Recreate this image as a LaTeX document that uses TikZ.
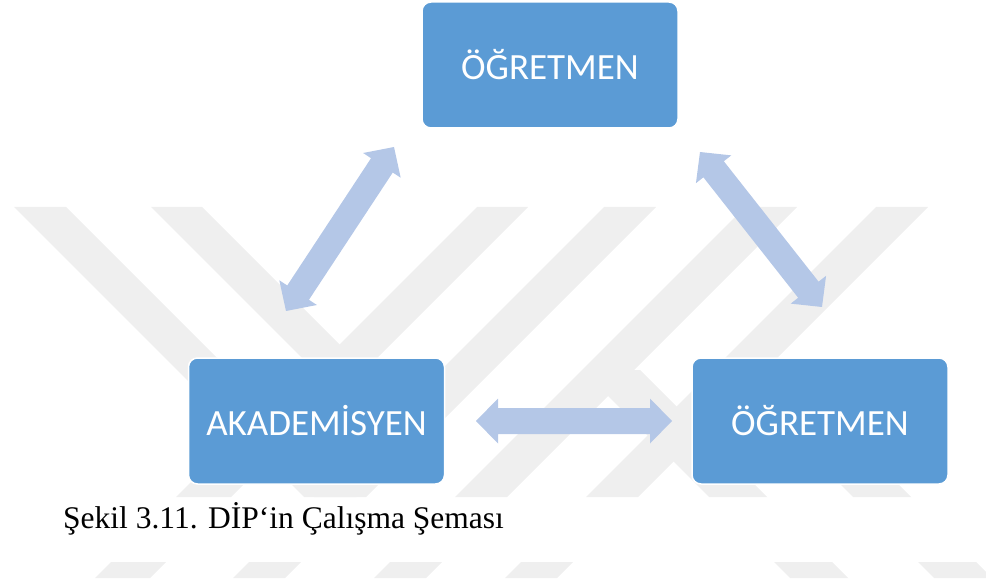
\documentclass[tikz,border=0pt]{standalone}
\usepackage{fontspec}
\setmainfont{Liberation Serif}
\newfontfamily\boxfont{Carlito}
\usetikzlibrary{calc}
\definecolor{boxblue}{HTML}{5B9BD5}
\definecolor{arrowblue}{HTML}{B4C7E7}
\definecolor{wmgray}{HTML}{EFEFEF}
% double block arrow between two named tips
\newcommand\dblarrow[2]{%
  \fill[arrowblue] (#1)
    -- ($(#1)!22pt!(#2)!22.5pt!90:(#2)$)
    -- ($(#1)!22pt!(#2)!13pt!90:(#2)$)
    -- ($(#2)!22pt!(#1)!13pt!-90:(#1)$)
    -- ($(#2)!22pt!(#1)!22.5pt!-90:(#1)$)
    -- (#2)
    -- ($(#2)!22pt!(#1)!22.5pt!90:(#1)$)
    -- ($(#2)!22pt!(#1)!13pt!90:(#1)$)
    -- ($(#1)!22pt!(#2)!13pt!-90:(#2)$)
    -- ($(#1)!22pt!(#2)!22.5pt!-90:(#2)$)
    -- cycle;}
% watermark stripes: x at y=207, from ya to yb, width
\newcommand\wmdr[4]{\fill[wmgray] ({#1+#2-207},#2) -- ({#1+#4+#2-207},#2) -- ({#1+#4+#3-207},#3) -- ({#1+#3-207},#3) -- cycle;}
\newcommand\wmdl[4]{\fill[wmgray] ({#1-#2+207},#2) -- ({#1+#4-#2+207},#2) -- ({#1+#4-#3+207},#3) -- ({#1-#3+207},#3) -- cycle;}
\begin{document}
\begin{tikzpicture}[x=1pt,y=-1pt,
  box/.style={draw=white, line width=1.5pt, fill=boxblue, rounded corners=9pt,
    minimum width=256pt, minimum height=126pt, inner sep=0pt, text=white,
    font=\boxfont\fontsize{37}{44}\selectfont}]
\useasboundingbox (0,0) rectangle (986,588);
% watermark
\begin{scope}
  \clip (0,207) rectangle (986,497) (0,562) rectangle (986,578);
  \wmdr{14}{207}{500}{52}
  \fill[wmgray] (151,207) -- (202,207) -- (339.5,344.5) -- (477,207) -- (528,207) -- (339.5,395.5) -- cycle;
  \wmdl{604}{207}{600}{52}
  \wmdl{745}{207}{600}{52}
  \wmdl{876}{207}{600}{52}
  \wmdl{466}{433}{600}{55}
  \wmdr{419}{370}{600}{58}
  \wmdr{563}{363}{600}{58}
\end{scope}
% boxes
\node[box] (t) at (550,65) {ÖĞRETMEN};
\node[box] (l) at (316.5,421) {AKADEMİSYEN};
\node[box] (r) at (820,421) {ÖĞRETMEN};
% arrow tips
\coordinate (lh1) at (476,421);
\coordinate (lh2) at (672,421);
\coordinate (ld1) at (286,311);
\coordinate (ld2) at (394,147);
\coordinate (rd1) at (700,152);
\coordinate (rd2) at (822,307);
\dblarrow{lh1}{lh2}
\dblarrow{ld1}{ld2}
\dblarrow{rd1}{rd2}
% caption
\node[anchor=base west, inner sep=0pt, font=\fontsize{31.5}{38}\selectfont] (cap) at (63,528) {Şekil 3.11. DİP‘in Çalışma Şeması};
\end{tikzpicture}
\end{document}
